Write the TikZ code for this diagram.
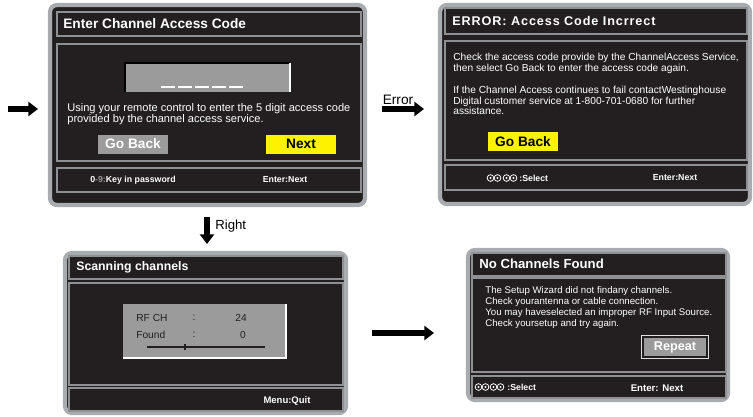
\documentclass[tikz,border=0pt]{standalone}
\usepackage{fontspec}
\setmainfont{Liberation Sans}
\usetikzlibrary{arrows.meta,positioning,calc}
\definecolor{screen}{HTML}{231F20}
\definecolor{rim}{HTML}{A8ACB0}
\definecolor{edge}{HTML}{8E9094}
\definecolor{field}{HTML}{9B9B9B}
\tikzset{
 frame/.style={fill=screen,draw=rim,line width=2.4pt,rounded corners=4pt},
 bar/.style={fill=screen,draw=edge,line width=1.1pt},
 title/.style={anchor=west,text=white,inner sep=0pt,font=\bfseries\fontsize{7.8}{9}\selectfont},
 body/.style={anchor=north west,text=white,align=left,inner sep=0pt,font=\fontsize{6.3}{6.2}\selectfont},
 hint/.style={text=white,inner sep=0pt,font=\bfseries\fontsize{5}{6}\selectfont},
 btn/.style={fill=field,text=white,inner sep=0pt,minimum width=1.4cm,minimum height=0.38cm,
             font=\bfseries\fontsize{7.8}{9}\selectfont},
 yellowbtn/.style={btn,fill=yellow,text=black},
 arrow/.style={-{Triangle[length=5.5pt,width=8pt]},line width=3.3pt},
 label/.style={inner sep=0pt,font=\fontsize{7.8}{9}\selectfont},
 keypair/.pic={\draw[white,line width=0.45pt,fill=screen] (-2pt,0) circle (1.9pt) (2pt,0) circle (1.9pt);
               \fill[white] (-2pt,0) circle (0.6pt) (2pt,0) circle (0.6pt);}
}
\begin{document}
\begin{tikzpicture}[x=0.02cm,y=-0.02cm]
\useasboundingbox (0,0) rectangle (753,416);

% enter access code
\draw[frame] (50,5) rectangle (365,205);
\draw[bar] (57,12) rectangle (361,36);
\draw[bar] (57,44) rectangle (361,161);
\draw[bar] (57,168) rectangle (361,192);
\node[title] (codetitle) at (63,24) {Enter Channel Access Code};
\fill[field] (125,63) rectangle (290,92);
\draw[black,line width=0.8pt] (125,92) -- (125,63) -- (290,63);
\draw[white,line width=0.6pt] (290,63) -- (290,92);
\foreach \i in {0,...,4}
  \draw[white,line width=1.1pt] (161+\i*17,87) -- (175+\i*17,87);
\node[body] (codetext) at (67,103) {Using your remote control to enter the 5 digit access code\\provided by the channel access service.};
\node[btn] (codeback) at (133,144) {Go Back};
\node[yellowbtn] (codenext) at (301,144) {Next};
\node[hint] (keyhint) at (133,180) {0\textcolor{gray!80}{-9:}Key in password};
\node[hint] (nexthint) at (285,180) {Enter:Next};

% error
\draw[frame] (440,5) rectangle (750,204);
\draw[bar] (445,8) rectangle (747,34);
\draw[bar] (445,41) rectangle (747,160);
\draw[bar] (445,165) rectangle (747,190);
\node[title,font=\bfseries\fontsize{7.2}{9}\selectfont\addfontfeature{LetterSpace=7}] (errtitle) at (452,21) {ERROR: Access Code Incrrect};
\node[body,font=\fontsize{5.8}{6.1}\selectfont] (errtext) at (453,53) {Check the access code provide by the ChannelAccess Service,\\then select Go Back to enter the access code again.\\[6.4pt]If the Channel Access continues to fail contactWestinghouse\\Digital customer service at 1-800-701-0680 for further\\assistance.};
\node[yellowbtn] (errback) at (523,141.5) {Go Back};
\pic at (494,178) {keypair};
\pic at (510,178) {keypair};
\node[hint,anchor=west] (errselect) at (519,178) {:Select};
\node[hint] (errnext) at (675,178) {Enter:Next};

% scanning
\draw[frame] (65,253) rectangle (346,413);
\draw[bar] (69,256) rectangle (343,279);
\draw[bar] (69,283) rectangle (343,385);
\draw[bar] (69,388) rectangle (343,411);
\node[title,font=\bfseries\fontsize{7}{9}\selectfont] (scantitle) at (76,267) {Scanning channels};
\fill[field] (123,304) rectangle (286,358);
\draw[white,line width=0.7pt] (123,358) -- (286,358) -- (286,304);
\node[label,anchor=west,text=screen,font=\fontsize{5.8}{7}\selectfont] (rfch) at (136,318) {RF CH};
\node[label,text=screen,font=\fontsize{5.8}{7}\selectfont] (rfcolon) at (194,318) {:};
\node[label,text=screen,font=\fontsize{5.8}{7}\selectfont] (rfval) at (241,318) {24};
\node[label,anchor=west,text=screen,font=\fontsize{5.8}{7}\selectfont] (found) at (136,335) {Found};
\node[label,text=screen,font=\fontsize{5.8}{7}\selectfont] (foundcolon) at (194,335) {:};
\node[label,text=screen,font=\fontsize{5.8}{7}\selectfont] (foundval) at (243,335) {0};
\draw[screen,line width=0.7pt] (147,347) -- (265,347);
\draw[screen,line width=1.4pt] (185,344) -- (185,350);
\node[hint,font=\bfseries\fontsize{5.4}{6}\selectfont] (quithint) at (287,401) {Menu:Quit};

% no channels
\draw[frame] (468,250) rectangle (728,400);
\draw[bar] (472,253) rectangle (726,276);
\draw[bar] (472,278) rectangle (726,372);
\draw[bar] (472,376) rectangle (726,398);
\node[title,font=\bfseries\fontsize{7.5}{9}\selectfont] (nonetitle) at (479,264) {No Channels Found};
\node[body,font=\fontsize{5.5}{6.2}\selectfont] (nonetext) at (485,286) {The Setup Wizard did not findany channels.\\Check yourantenna or cable connection.\\You may haveselected an improper RF Input Source.\\Check yoursetup and try again.};
\node[btn,minimum width=1.28cm,minimum height=0.4cm,draw=screen,line width=0.8pt,
      font=\bfseries\fontsize{7.2}{9}\selectfont] (repeat) at (675,347) {Repeat};
\draw[white!75!gray,line width=0.5pt] (repeat.south west) ++(-1,1) rectangle ($(repeat.north east)+(1,-1)$);
\pic at (482,387) {keypair};
\pic at (497,387) {keypair};
\node[hint,anchor=west] (noneselect) at (507,387) {:Select};
\node[hint,font=\bfseries\fontsize{5.5}{6}\selectfont] (nonenext) at (657,388) {Enter: Next};

% arrows
\coordinate (startA) at (8,109);
\coordinate (startB) at (38,109);
\draw[arrow] (startA) -- (startB);
\coordinate (errA) at (382,109);
\coordinate (errB) at (424,109);
\draw[arrow] (errA) -- (errB);
\node[label] (errlabel) at (398,100) {Error};
\coordinate (rightA) at (207,217);
\coordinate (rightB) at (207,244);
\draw[arrow] (rightA) -- (rightB);
\node[label,anchor=west,font=\fontsize{7.5}{9}\selectfont] (rightlabel) at (215,226) {Right};
\coordinate (scanA) at (372,333);
\coordinate (scanB) at (434,333);
\draw[arrow] (scanA) -- (scanB);
\end{tikzpicture}
\end{document}
